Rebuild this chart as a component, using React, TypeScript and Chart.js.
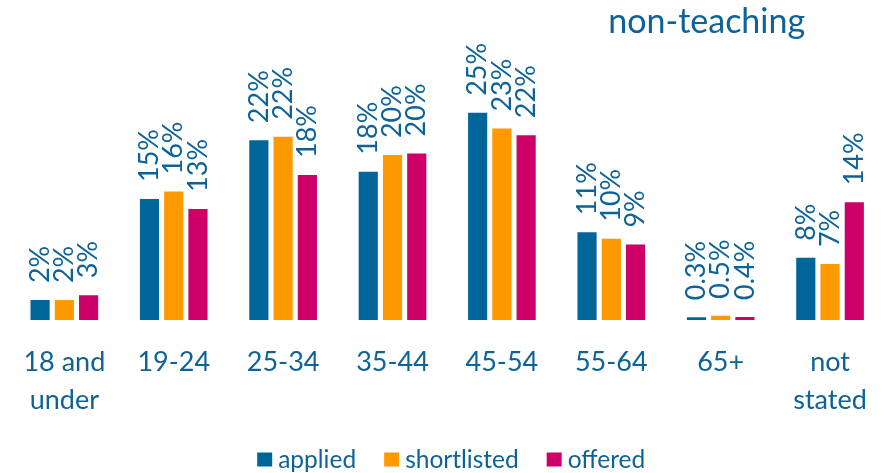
import React, { useEffect, useRef } from "react";
import { Chart, registerables } from "chart.js";

Chart.register(...registerables);

const categories: (string | string[])[] = [
  ["18 and", "under"],
  "19-24",
  "25-34",
  "35-44",
  "45-54",
  "55-64",
  "65+",
  ["not", "stated"],
];

const applied = [2.4, 14.6, 21.7, 17.9, 25.0, 10.6, 0.33, 7.5];
const shortlisted = [2.4, 15.5, 22.1, 19.9, 23.1, 9.8, 0.52, 6.75];
const offered = [3.0, 13.4, 17.5, 20.1, 22.3, 9.1, 0.36, 14.2];

const seriesNames = ["applied", "shortlisted", "offered"];
const seriesColors = ["#006699", "#FF9900", "#CC0066"];
const titleText = "non-teaching";

const TEXT_COLOR = "#0D6397";
const FONT = "Lato, 'Open Sans', sans-serif";

function fmt(v: number): string {
  return v < 1 ? v.toFixed(1) + "%" : Math.round(v) + "%";
}

const decorPlugin = {
  id: "decor",
  afterDatasetsDraw(chart: any) {
    const ctx = chart.ctx;
    ctx.save();
    ctx.fillStyle = TEXT_COLOR;
    ctx.font = `27px ${FONT}`;
    ctx.textAlign = "left";
    ctx.textBaseline = "middle";
    chart.data.datasets.forEach((ds: any, di: number) => {
      const meta = chart.getDatasetMeta(di);
      meta.data.forEach((el: any, i: number) => {
        ctx.save();
        ctx.translate(el.x, el.y - 17);
        ctx.rotate(-Math.PI / 2);
        ctx.fillText(fmt(ds.data[i]), 0, 0);
        ctx.restore();
      });
    });
    ctx.restore();
  },
  afterDraw(chart: any) {
    const ctx = chart.ctx;
    const ca = chart.chartArea;
    ctx.save();
    // title
    ctx.fillStyle = TEXT_COLOR;
    ctx.font = `34px ${FONT}`;
    ctx.textAlign = "center";
    ctx.textBaseline = "alphabetic";
    ctx.fillText(titleText, ca.right - 178, 33);
    // legend
    ctx.font = `24.5px ${FONT}`;
    const box = 15;
    const gap = 6;
    const itemGap = 28;
    const widths = chart.data.datasets.map((d: any) => ctx.measureText(d.label).width);
    const total =
      widths.reduce((a: number, b: number) => a + b, 0) +
      chart.data.datasets.length * (box + gap) +
      (chart.data.datasets.length - 1) * itemGap;
    let x = (ca.left + ca.right) / 2 - total / 2 + 4;
    const yMid = 459.5;
    ctx.textAlign = "left";
    ctx.textBaseline = "middle";
    chart.data.datasets.forEach((d: any, i: number) => {
      ctx.fillStyle = d.backgroundColor;
      ctx.fillRect(x, yMid - 7, box, 14);
      x += box + gap;
      ctx.fillStyle = TEXT_COLOR;
      ctx.fillText(d.label, x, yMid + 1);
      x += widths[i] + itemGap;
    });
    ctx.restore();
  },
};

export default function App() {
  const ref = useRef<HTMLCanvasElement | null>(null);

  useEffect(() => {
    document.body.style.margin = "0";
    if (!ref.current) return;
    const seriesData = [applied, shortlisted, offered];
    const chart = new Chart(ref.current, {
      type: "bar",
      data: {
        labels: categories,
        datasets: seriesNames.map((name, i) => ({
          label: name,
          data: seriesData[i],
          backgroundColor: seriesColors[i],
          borderWidth: 0,
          categoryPercentage: 0.665,
          barPercentage: 0.79,
        })),
      },
      options: {
        animation: false,
        responsive: true,
        maintainAspectRatio: false,
        layout: { padding: { top: 104.5, left: 8, right: 4, bottom: 50 } },
        plugins: {
          legend: { display: false },
          tooltip: { enabled: false },
          title: { display: false },
        },
        scales: {
          x: {
            grid: { display: false, drawTicks: false },
            border: { display: false },
            ticks: {
              color: TEXT_COLOR,
              font: { family: FONT, size: 27, lineHeight: 1.426 },
              padding: 23,
              maxRotation: 0,
              autoSkip: false,
            },
            afterFit: (scale: any) => {
              scale.height = 103;
            },
          },
          y: {
            display: false,
            min: 0,
            max: 26,
          },
        },
      },
      plugins: [decorPlugin],
    });
    return () => chart.destroy();
  }, []);

  return (
    <div style={{ width: 890, height: 473, position: "relative" }}>
      <canvas ref={ref} />
    </div>
  );
}
